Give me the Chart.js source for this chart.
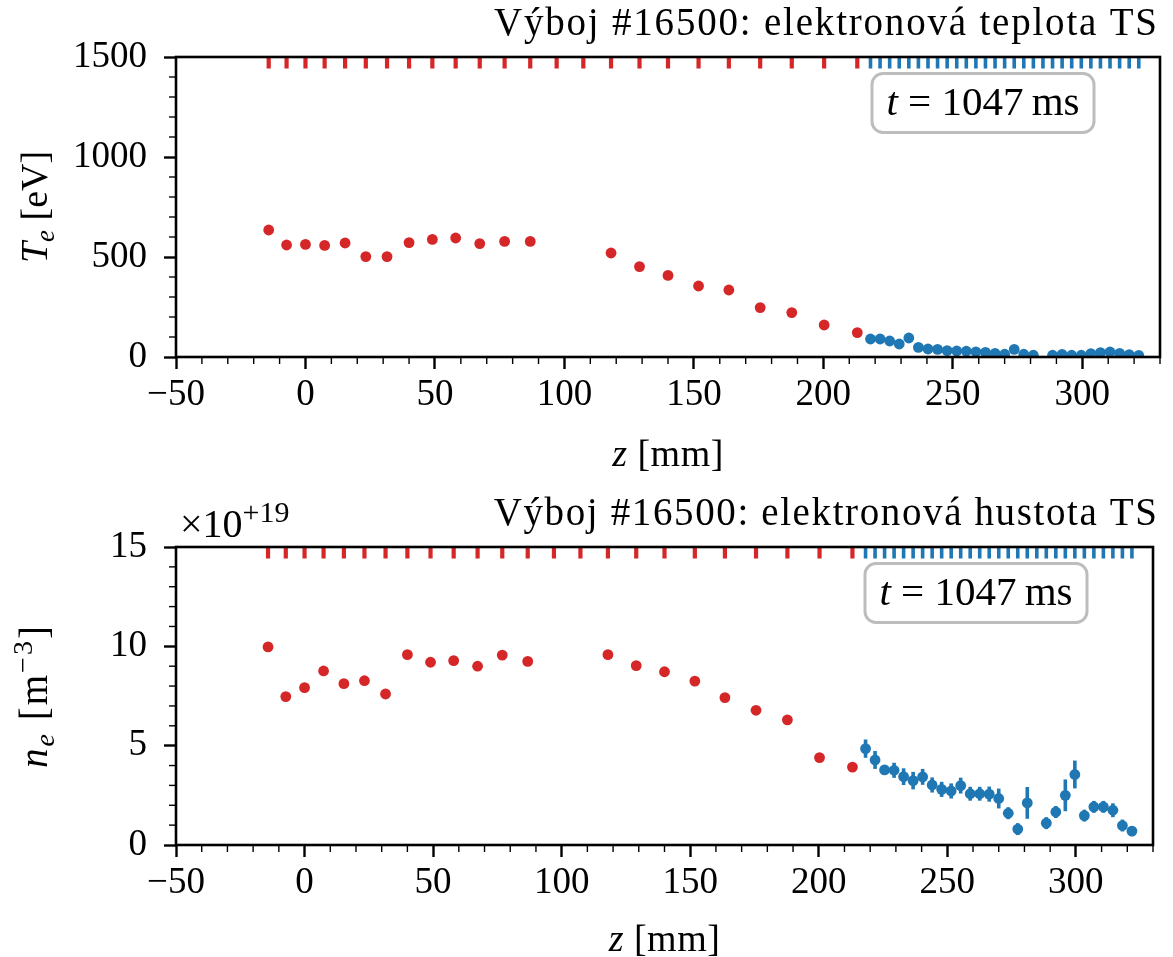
<!DOCTYPE html>
<html><head><meta charset="utf-8">
<script src="https://cdn.jsdelivr.net/npm/chart.js@4.4.1/dist/chart.umd.min.js"></script>
<style>
html,body{margin:0;padding:0;background:#fff;width:1173px;height:957px;overflow:hidden;}
#w1{position:absolute;left:0;top:0;width:1173px;height:480px;}
#w2{position:absolute;left:0;top:480px;width:1173px;height:477px;}
</style></head><body>
<div id="w1"><canvas id="c1"></canvas></div>
<div id="w2"><canvas id="c2"></canvas></div>
<script>
// ---- data ----
const zRed  = [-14.2, -7.3, 0.0, 7.4, 15.3, 23.3, 31.5, 40.0, 49.0, 58.0, 67.3, 76.9, 86.8, 97.0, 107.3, 118.0, 129.0, 140.0, 151.8, 163.5, 175.6, 187.8, 200.3, 213.1];
const teRed = [635, 560, 563, 558, 570, 502, 502, 572, 588, 595, 567, 578, 578, null, null, 520, 452, 408, 355, 335, 247, 222, 160, 122];
const neRed = [9.97, 7.47, 7.92, 8.76, 8.12, 8.27, 7.60, 9.58, 9.20, 9.28, 9.00, 9.56, 9.24, null, null, 9.58, 9.03, 8.72, 8.25, 7.42, 6.78, 6.30, 4.40, 3.92];
const zBlue  = [218.2, 221.9, 225.6, 229.3, 233.0, 236.7, 240.4, 244.1, 247.8, 251.5, 255.2, 258.9, 262.6, 266.3, 270.0, 273.7, 277.4, 281.1, 284.8, 288.5, 292.2, 295.9, 299.6, 303.3, 307.0, 310.7, 314.4, 318.1, 321.8];
const teBlue = [90, 90, 80, 65, 95, 48, 40, 38, 32, 30, 29, 26, 23, 18, 14, 38, 14, 9, null, 9, 13, 9, 9, 17, 22, 25, 18, 12, 8];
const neBlue = [4.85, 4.28, 3.78, 3.76, 3.44, 3.24, 3.43, 3.02, 2.80, 2.72, 2.99, 2.58, 2.58, 2.56, 2.34, 1.60, 0.80, 2.12, null, 1.10, 1.66, 2.50, 3.55, 1.48, 1.92, 1.92, 1.75, 0.98, 0.70];
const neBlueErr = [0.46, 0.45, 0.15, 0.38, 0.42, 0.44, 0.40, 0.38, 0.38, 0.38, 0.40, 0.35, 0.35, 0.38, 0.50, 0.30, 0.30, 0.80, null, 0.30, 0.30, 0.80, 0.70, 0.30, 0.30, 0.30, 0.35, 0.30, 0.25];

const xMajorTicks = [-50, 0, 50, 100, 150, 200, 250, 300];
const teMajorTicks = [0, 500, 1000, 1500];
const neMajorTicks = [0, 5, 10, 15];
const titleTe = 'Výboj #16500: elektronová teplota TS';
const titleNe = 'Výboj #16500: elektronová hustota TS';
const timeText = '1047';

// ---- styling ----
const RED = '#d62728', BLUE = '#1f77b4';
const FAM = '"Liberation Serif", "Times New Roman", serif';
const R = n => `${n}px ${FAM}`;
const I = n => `italic ${n}px ${FAM}`;
const fmt = v => v < 0 ? '\u2212' + Math.abs(v) : String(v);

function drawParts(ctx, parts, x, y, align, spacing) {
  ctx.letterSpacing = (spacing || 0) + 'px';
  let w = 0;
  parts.forEach(p => { ctx.font = p.f; p.w = ctx.measureText(p.t).width; w += p.w; });
  let cx = align === 'center' ? x - w / 2 : x;
  parts.forEach(p => { ctx.font = p.f; ctx.fillText(p.t, cx, y + (p.dy || 0)); cx += p.w; });
  ctx.letterSpacing = '0px';
}

function makeDecor(cfg) {
  return {
    id: 'decor',
    beforeDatasetsDraw(chart) {
      if (!cfg.err) return;
      const ctx = chart.ctx, xs = chart.scales.x, ys = chart.scales.y;
      ctx.save();
      ctx.strokeStyle = BLUE; ctx.lineWidth = 3.6;
      cfg.err.x.forEach((z, i) => {
        const v = cfg.err.y[i], e = cfg.err.e[i];
        if (v == null || e == null) return;
        const px = xs.getPixelForValue(z);
        ctx.beginPath();
        ctx.moveTo(px, ys.getPixelForValue(v - e));
        ctx.lineTo(px, ys.getPixelForValue(v + e));
        ctx.stroke();
      });
      ctx.restore();
    },
    afterDraw(chart) {
      const ctx = chart.ctx, ca = chart.chartArea, xs = chart.scales.x, ys = chart.scales.y;
      ctx.save();
      // minor ticks
      ctx.strokeStyle = '#000'; ctx.lineWidth = 1.4;
      xs.ticks.forEach(t => {
        if (xMajorTicks.includes(t.value)) return;
        const px = xs.getPixelForValue(t.value);
        ctx.beginPath(); ctx.moveTo(px, ca.bottom); ctx.lineTo(px, ca.bottom + 7); ctx.stroke();
      });
      ys.ticks.forEach(t => {
        if (cfg.yMajor.includes(t.value)) return;
        const py = ys.getPixelForValue(t.value);
        ctx.beginPath(); ctx.moveTo(ca.left - 7, py); ctx.lineTo(ca.left, py); ctx.stroke();
      });
      // rug ticks at top
      ctx.fillStyle = RED;
      zRed.forEach(z => { const px = xs.getPixelForValue(z); ctx.fillRect(px - 2.1, ca.top, 4.2, 11.5); });
      ctx.fillStyle = BLUE;
      zBlue.forEach(z => { const px = xs.getPixelForValue(z); ctx.fillRect(px - 1.8, ca.top, 3.6, 11.5); });
      // frame
      ctx.strokeStyle = '#000'; ctx.lineWidth = 2.6;
      ctx.strokeRect(ca.left, ca.top, ca.right - ca.left, ca.bottom - ca.top);
      // time box
      const bw = 222, bh = 59;
      const bx = ca.right - 66 - bw, by = ca.top + 16.5;
      ctx.beginPath();
      ctx.roundRect(bx, by, bw, bh, 11);
      ctx.fillStyle = '#fff'; ctx.fill();
      ctx.strokeStyle = '#bdbdbd'; ctx.lineWidth = 3; ctx.stroke();
      ctx.fillStyle = '#000'; ctx.textBaseline = 'alphabetic'; ctx.textAlign = 'left';
      drawParts(ctx, [{t: 't', f: I(41)}, {t: ' = ', f: R(41)}, {t: timeText, f: R(41)}, {t: '\u2009ms', f: R(41)}],
        bx + bw / 2, by + bh / 2 + 12, 'center');
      // x label
      drawParts(ctx, [{t: 'z', f: I(38)}, {t: ' [mm]', f: R(38)}], (ca.left + ca.right) / 2, cfg.xLabelY, 'center', 0.5);
      // y label (rotated)
      ctx.save();
      ctx.translate(47, (ca.top + ca.bottom) / 2);
      ctx.rotate(-Math.PI / 2);
      drawParts(ctx, cfg.yParts, 0, 0, 'center', cfg.ySpacing || 0);
      ctx.restore();
      // multiplier
      if (cfg.mult) {
        drawParts(ctx, [{t: '\u00d710', f: R(40)}, {t: '+19', f: R(30), dy: -15}], ca.left + 4, ca.top - 10, 'left');
      }
      // title (right aligned, widened to match the reference's wide serif)
      ctx.font = R(39);
      ctx.textAlign = 'right';
      const w0 = ctx.measureText(cfg.title).width;
      const sp = Math.max(0, (665 - w0) / cfg.title.length);
      ctx.letterSpacing = sp.toFixed(2) + 'px';
      ctx.fillText(cfg.title, 1157 + sp, cfg.titleY);
      ctx.letterSpacing = '0px';
      ctx.restore();
    }
  };
}

function makeChart(canvasId, o) {
  const toPts = (zs, vs) => zs.map((z, i) => ({x: z, y: vs[i]}));
  return new Chart(document.getElementById(canvasId), {
    type: 'scatter',
    data: {
      datasets: [
        {data: toPts(zRed, o.red), backgroundColor: RED, borderWidth: 0, pointRadius: 5.4, pointHoverRadius: 5.4},
        {data: toPts(zBlue, o.blue), backgroundColor: BLUE, borderWidth: 0, pointRadius: 5.4, pointHoverRadius: 5.4}
      ]
    },
    options: {
      responsive: true, maintainAspectRatio: false, animation: false,
      events: [],
      layout: {padding: {left: 0, right: o.rightPad, top: o.topPad, bottom: 0}},
      plugins: {
        legend: {display: false}, tooltip: {enabled: false}, title: {display: false}
      },
      scales: {
        x: {
          type: 'linear', min: -50, max: 330,
          afterFit: s => { s.height = o.xHeight; },
          border: {display: false},
          grid: {display: true, drawOnChartArea: false, drawTicks: true, tickLength: 12,
            tickWidth: 2.4,
            tickColor: c => xMajorTicks.includes(c.tick.value) ? '#000' : 'rgba(0,0,0,0)'},
          ticks: {stepSize: 10, autoSkip: false, maxRotation: 0, minRotation: 0, padding: 4,
            color: '#000', font: {family: FAM, size: 37},
            callback: v => xMajorTicks.includes(v) ? fmt(v) : ''}
        },
        y: {
          type: 'linear', min: 0, max: o.yMax,
          afterFit: s => { s.width = 176; },
          border: {display: false},
          grid: {display: true, drawOnChartArea: false, drawTicks: true, tickLength: 12,
            tickWidth: 2.4,
            tickColor: c => o.yMajor.includes(c.tick.value) ? '#000' : 'rgba(0,0,0,0)'},
          ticks: {stepSize: o.yStep, autoSkip: false, padding: 17,
            color: '#000', font: {family: FAM, size: 37},
            callback: v => o.yMajor.includes(v) ? fmt(v) : ''}
        }
      }
    },
    plugins: [makeDecor(o)]
  });
}

makeChart('c1', {
  red: teRed, blue: teBlue, title: titleTe, titleY: 35, rightPad: 13, topPad: 57, xHeight: 123,
  yMax: 1500, yStep: 100, yMajor: teMajorTicks,
  xLabelY: 466, ySpacing: 0,
  yParts: [{t: 'T', f: I(38)}, {t: 'e', f: I(27), dy: 7}, {t: ' [eV]', f: R(38)}]
});
makeChart('c2', {
  red: neRed, blue: neBlue, title: titleNe, titleY: 45, rightPad: 20, topPad: 67, xHeight: 112,
  yMax: 15, yStep: 1, yMajor: neMajorTicks,
  xLabelY: 471, mult: true, ySpacing: 2,
  err: {x: zBlue, y: neBlue, e: neBlueErr},
  yParts: [{t: 'n', f: I(39)}, {t: 'e', f: I(28), dy: 7}, {t: ' [m', f: R(39)}, {t: '\u22123', f: R(28), dy: -15}, {t: ']', f: R(39)}]
});
</script>
</body></html>
